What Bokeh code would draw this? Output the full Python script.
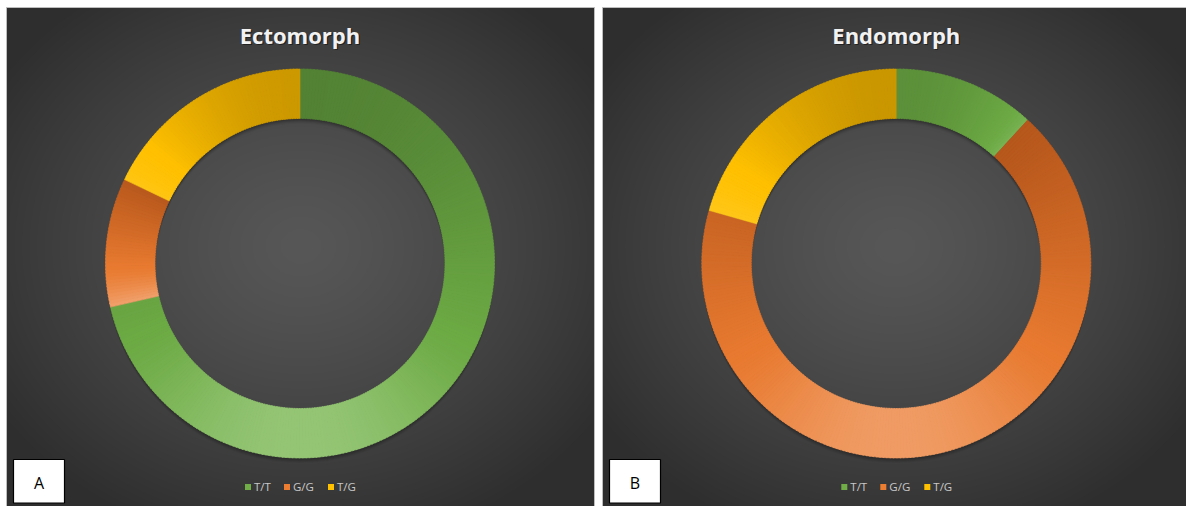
import numpy as np
from bokeh.plotting import figure
from bokeh.models import Range1d
from bokeh.core.properties import value
from bokeh.embed import file_html
from bokeh.resources import INLINE

# ---------------- data ----------------
categories = ["T/T", "G/G", "T/G"]
ecto_values = [71.4, 10.7, 17.9]     # percent
endo_values = [11.8, 67.6, 20.6]     # percent
panel_titles = ["Ectomorph", "Endomorph"]
panel_tags = ["A", "B"]

# gradient stops of each category: dark (top) / base / light (bottom)
dark_cols = [(80, 126, 50), (178, 84, 26), (186, 138, 0)]
base_cols = [(108, 170, 68), (232, 122, 48), (255, 192, 0)]
light_cols = [(163, 207, 134), (243, 170, 122), (255, 200, 30)]
legend_cols = ["#70ad47", "#ed7d31", "#ffc000"]

W, H = 1186, 506
p = figure(width=W, height=H, x_range=Range1d(0, W), y_range=Range1d(0, H),
           output_backend="svg", toolbar_location=None, min_border=0)
p.xaxis.visible = False
p.yaxis.visible = False
p.grid.visible = False
p.outline_line_color = None
p.background_fill_color = "white"
p.border_fill_color = "white"


def Y(ypix):
    return H - ypix


# panels: (left, right) in pixels, top at 7, bottom at 506
panels = [(6, 594), (602, 1186)]
top_pix = 7


def bg_image(w, h):
    yy, xx = np.mgrid[0:h, 0:w]
    cx, cy = w / 2.0, h * 0.52
    d = np.sqrt(((xx - cx) / (w * 0.62)) ** 2 + ((yy - cy) / (h * 0.62)) ** 2)
    d = np.clip(d, 0, 1)
    c = (0x57 - (0x57 - 0x2e) * d ** 1.3).astype(np.uint32)
    img = (255 << 24) | (c << 16) | (c << 8) | c
    return img.astype(np.uint32)


for (l, r) in panels:
    w, h = r - l, H - top_pix
    p.image_rgba(image=[bg_image(w, h)], x=l, y=0, dw=w, dh=h)
    p.quad(left=l, right=r, bottom=0, top=Y(top_pix), fill_color=None,
           line_color="#bdbdbd", line_width=1)

R_OUT, R_IN = 194.5, 145.0
centers = [(299.5, 263.0), (895.8, 263.0)]
all_values = [ecto_values, endo_values]
BASE_T = 0.68


def grad(k, t):
    if t <= BASE_T:
        a, b, u = dark_cols[k], base_cols[k], t / BASE_T
    else:
        a, b, u = base_cols[k], light_cols[k], (t - BASE_T) / (1 - BASE_T)
    u = u ** 1.4 if t > BASE_T else u
    return "#%02x%02x%02x" % tuple(int(round(a[i] + (b[i] - a[i]) * u)) for i in range(3))


for pi, (vals, (cx, cyp), title, tag) in enumerate(zip(all_values, centers, panel_titles, panel_tags)):
    cy = Y(cyp)
    # shadow of the ring (cast downward)
    for off, al in [(1, 0.10), (2, 0.09), (3, 0.07), (4, 0.05), (5, 0.04)]:
        p.annulus(x=cx, y=cy - off, inner_radius=R_IN, outer_radius=R_OUT,
                  fill_color="black", fill_alpha=al, line_color=None)

    vals = np.array(vals, dtype=float)
    fr = vals / vals.sum()
    ends = np.cumsum(fr) * 360.0
    starts = np.concatenate([[0.0], ends[:-1]])
    xs, ys, sa, ea, cols = [], [], [], [], []
    for k in range(len(categories)):
        c0, c1 = starts[k], ends[k]
        # vertical extent of the slice (for per-slice gradient)
        samp = np.linspace(c0, c1, 200)
        th = np.radians(90 - samp)
        yy = np.concatenate([R_OUT * np.sin(th), R_IN * np.sin(th)])
        ymax, ymin = yy.max(), yy.min()
        n = max(3, int((c1 - c0) / 1.0))
        edges = np.linspace(c0, c1, n + 1)
        for j in range(n):
            a0, a1 = edges[j], edges[j + 1]
            mid = np.radians(90 - (a0 + a1) / 2)
            ym = (R_OUT + R_IN) / 2 * np.sin(mid)
            t = (ymax - ym) / (ymax - ymin) if ymax > ymin else 0.5
            t = float(np.clip(t, 0, 1))
            xs.append(cx)
            ys.append(cy)
            sa.append(np.radians(90 - a0))
            ea.append(np.radians(90 - a1) - (0.004 if j < n - 1 else 0))
            cols.append(grad(k, t))
    p.annular_wedge(x=xs, y=ys, inner_radius=R_IN, outer_radius=R_OUT,
                    start_angle=sa, end_angle=ea, direction="clock",
                    fill_color=cols, line_color=cols, line_width=0.6)

    # title with a soft shadow
    p.text(x=[cx + 1.2], y=[Y(34) - 1.5], text=[title], text_align="center",
           text_baseline="middle", text_font=value("Open Sans"),
           text_font_style="bold", text_font_size="22px", text_color="black",
           text_alpha=0.45)
    p.text(x=[cx], y=[Y(34)], text=[title], text_align="center",
           text_baseline="middle", text_font=value("Open Sans"),
           text_font_style="bold", text_font_size="22px", text_color="#f2f2f2")

    # legend
    offs = [-52, -13, 31]
    lx = [cx + o for o in offs]
    p.rect(x=lx, y=[Y(486.5)] * 3, width=6, height=6, fill_color=legend_cols,
           line_color=None)
    p.text(x=[v + 6 for v in lx], y=[Y(486)] * 3, text=categories,
           text_align="left", text_baseline="middle",
           text_font=value("Open Sans"), text_font_size="11.5px",
           text_color="#c8c8c8")

    # tag box
    bl = panels[pi][0] + 7
    p.quad(left=bl, right=bl + 51, bottom=Y(502.5), top=Y(459),
           fill_color="white", line_color="black", line_width=1.2)
    p.text(x=[bl + 25.5], y=[Y(482)], text=[tag], text_align="center",
           text_baseline="middle", text_font=value("Open Sans"),
           text_font_size="16px", text_color="black")

open("out.html", "w").write(file_html(p, INLINE))
